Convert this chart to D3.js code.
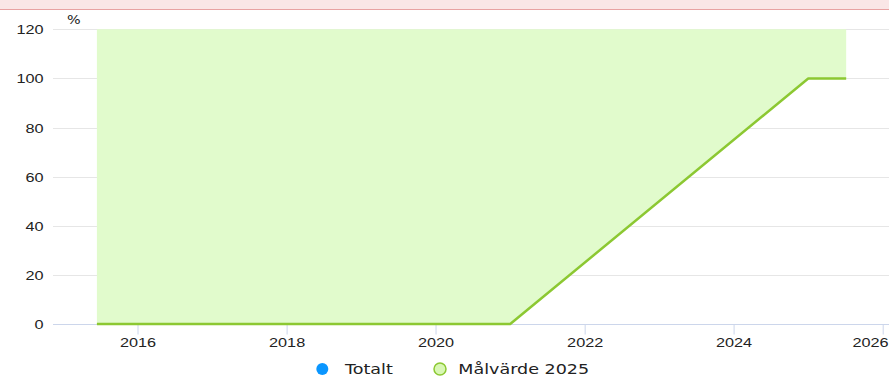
<!DOCTYPE html>
<html>
<head>
<meta charset="utf-8">
<script src="https://cdn.jsdelivr.net/npm/d3@7"></script>
<style>
  html, body { margin: 0; padding: 0; background: #fff; }
  svg { display: block; font-family: "DejaVu Sans", Verdana, sans-serif; }
</style>
</head>
<body>
<svg id="chart" width="889" height="378"></svg>
<script>
// Target trajectory: share (%) over time
const targetDates = ["2015-06-16", "2021-01-01", "2025-01-01", "2025-07-06"];
const targetValues = [0, 0, 100, 100];
const yTicks = [0, 20, 40, 60, 80, 100, 120];
const xTickYears = [2016, 2018, 2020, 2022, 2024, 2026];
const legendNames = ["Totalt", "Målvärde 2025"];
const unitLabel = "%";

const svg = d3.select("#chart");
const W = 889, H = 378;
const plotLeft = 53, plotRight = 889;

const parse = d3.timeParse("%Y-%m-%d");
const points = targetDates.map((d, i) => ({ date: parse(d), value: targetValues[i] }));

const x = d3.scaleTime()
  .domain([new Date(2016, 0, 1), new Date(2026, 0, 1)])
  .range([137.5, 882.7]);
const y = d3.scaleLinear().domain([0, 120]).range([324, 29.3]);

// the chart's lettering is set broad: stretch text horizontally about its anchor
const STRETCH = 1.25;

// header strip
svg.append("rect").attr("x", 0).attr("y", 0).attr("width", W).attr("height", 9)
  .attr("fill", "#fae6e6");
svg.append("line").attr("x1", 0).attr("x2", W).attr("y1", 9.5).attr("y2", 9.5)
  .attr("stroke", "#e8a2a2").attr("stroke-width", 1);

// horizontal grid
svg.append("g").selectAll("line").data(yTicks.filter(v => v > 0)).join("line")
  .attr("x1", plotLeft).attr("x2", plotRight)
  .attr("y1", d => Math.round(y(d)) + 0.5).attr("y2", d => Math.round(y(d)) + 0.5)
  .attr("stroke", "#e6e6e6").attr("stroke-width", 1);

// area between the target line and the top of the scale
const band = d3.area()
  .x(d => x(d.date))
  .y0(d => y(d.value))
  .y1(() => y(120));
svg.append("path").datum(points).attr("d", band).attr("fill", "#e1fbcc");

// x axis
const xAxis = d3.axisBottom(x)
  .tickValues(xTickYears.map(yr => new Date(yr, 0, 1)))
  .tickFormat(d3.timeFormat("%Y"))
  .tickSize(10).tickSizeOuter(0);
const gx = svg.append("g").attr("transform", "translate(0,324.5)").call(xAxis);
gx.select(".domain").remove();
gx.insert("line", ":first-child").attr("x1", plotLeft).attr("x2", plotRight)
  .attr("y1", 0).attr("y2", 0).attr("stroke", "#ccd6eb");
gx.selectAll(".tick line").attr("stroke", "#ccd6eb");
gx.selectAll(".tick text").attr("x", 0).attr("y", 13).attr("dy", "0.71em")
  .attr("font-size", 13).attr("fill", "#222")
  .attr("transform", `scale(${STRETCH},1)`);

// keep the last year label inside the frame, nudged left like the chart does
gx.selectAll(".tick").each(function (d) {
  const t = d3.select(this).select("text");
  const half = t.node().getComputedTextLength() * STRETCH / 2;
  const cx = x(d);
  if (cx + half > W - 1) {
    t.attr("x", (W - 1 - half - cx) / STRETCH);
  }
});

// y axis labels
const yAxis = d3.axisLeft(y).tickValues(yTicks).tickSize(0).tickPadding(0);
const gy = svg.append("g").attr("transform", "translate(43.5,0)").call(yAxis);
gy.select(".domain").remove();
gy.selectAll(".tick text").attr("x", 0).attr("font-size", 13).attr("fill", "#222").attr("dy", "0.35em")
  .attr("transform", `scale(${STRETCH},1)`);

// unit label
svg.append("text").attr("transform", "translate(67,24) scale(1.2,1)")
  .attr("font-size", 12).attr("fill", "#222").text(unitLabel);

// target line
const line = d3.line().x(d => x(d.date)).y(d => y(d.value));
svg.append("path").datum(points).attr("d", line)
  .attr("fill", "none").attr("stroke", "#8cc832").attr("stroke-width", 2.5)
  .attr("stroke-linejoin", "round");

// legend
const lg = svg.append("g");
lg.append("circle").attr("cx", 322.3).attr("cy", 369).attr("r", 6).attr("fill", "#0a96ff");
lg.append("text").attr("transform", "translate(345,369) scale(1.3,1)").attr("dy", "0.35em")
  .attr("font-size", 13.5).attr("fill", "#222").text(legendNames[0]);
lg.append("circle").attr("cx", 440).attr("cy", 369).attr("r", 6)
  .attr("fill", "#d8f7b4").attr("stroke", "#8cc832").attr("stroke-width", 1.5);
lg.append("text").attr("transform", "translate(458.3,369) scale(1.3,1)").attr("dy", "0.35em")
  .attr("font-size", 13.5).attr("fill", "#222").text(legendNames[1]);
</script>
</body>
</html>
